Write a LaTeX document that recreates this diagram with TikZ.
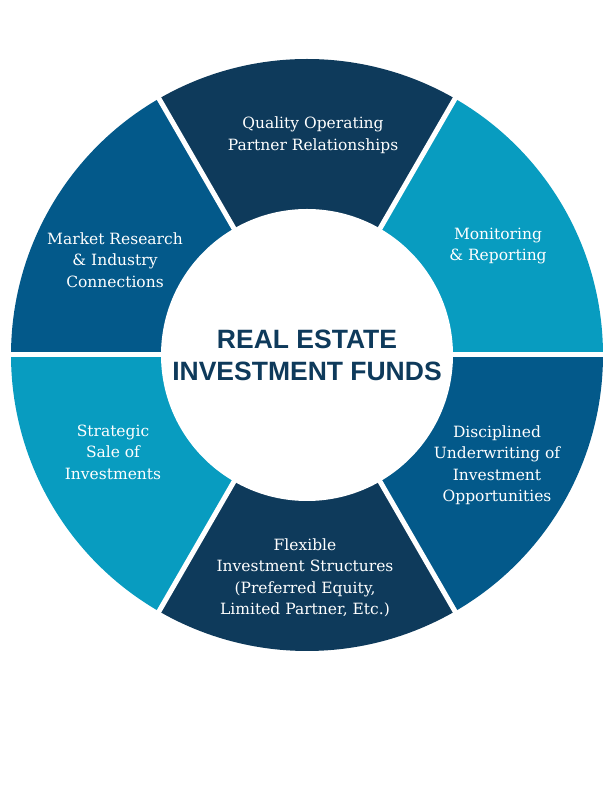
\documentclass[tikz,border=0pt]{standalone}
\usepackage{fontspec}
\setmainfont{DejaVu Serif}
\newfontfamily\headfont{Liberation Sans}
\definecolor{navy}{HTML}{0E3A5B}
\definecolor{teal}{HTML}{089CC0}
\definecolor{mblue}{HTML}{03598A}
\begin{document}
\begin{tikzpicture}[x=1pt,y=1pt,
  lbl/.style={text=white,align=center,font=\fontsize{15.5}{21.5}\selectfont}]
\useasboundingbox (0,0) rectangle (612,792);
\coordinate (c) at (307,437);
\def\R{296}
\foreach \a/\col in {0/teal,60/navy,120/mblue,180/teal,240/navy,300/mblue}{
  \fill[\col] (c) -- ++(\a:\R) arc[start angle=\a,end angle=\a+60,radius=\R] -- cycle;
}
\foreach \a in {0,60,...,300}{
  \draw[white,line width=5pt] (c) -- ++(\a:\R+5);
}
\fill[white] (c) circle[radius=146];
\node[lbl] (q) at (313,657) {Quality Operating\\Partner Relationships};
\node[lbl] (m) at (498,546) {Monitoring\\\& Reporting};
\node[lbl] (d) at (497,327) {Disciplined\\Underwriting of\\Investment\\Opportunities};
\node[lbl] (f) at (305,214) {Flexible\\Investment Structures\\(Preferred Equity,\\Limited Partner, Etc.)};
\node[lbl] (s) at (113,340) {Strategic\\Sale of\\Investments};
\node[lbl] (r) at (115,532) {Market Research\\\& Industry\\Connections};
\node[text=navy,align=center,font=\headfont\bfseries\fontsize{26.5}{32}\selectfont] (t) at (c) {REAL ESTATE\\INVESTMENT FUNDS};
\end{tikzpicture}
\end{document}
